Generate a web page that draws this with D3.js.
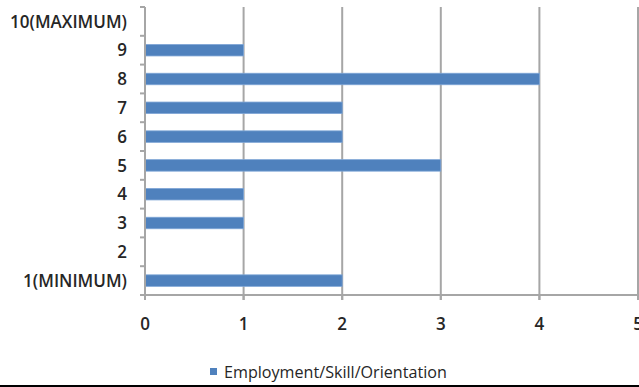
<!DOCTYPE html>
<html><head><meta charset="utf-8">
<script src="https://cdn.jsdelivr.net/npm/d3@7"></script>
<style>body{margin:0;background:#fff}svg{display:block}</style>
</head><body>
<svg id="c" width="639" height="387"></svg>
<script>
const categories = ["1(MINIMUM)","2","3","4","5","6","7","8","9","10(MAXIMUM)"];
const values = [2,0,1,1,3,2,2,4,1,0];
const xTicks = [0,1,2,3,4,5];
const seriesName = "Employment/Skill/Orientation";

(function(){
const svg = d3.select("#c");
const mLeft = 145, mRight = 638, mTop = 7, mBottom = 295;
const x = d3.scaleLinear().domain([0,5]).range([mLeft,mRight]);
const y = d3.scaleBand().domain(categories.slice().reverse()).range([mTop,mBottom]).paddingInner(0.6).paddingOuter(0.3);
const font = "'Open Sans', Lato, sans-serif";
const grid = "#a6a6a6";

// fit font size: measure
const probe = svg.append("text").attr("font-family", font).attr("font-size","14px").text(seriesName);
const w = probe.node().getComputedTextLength();
probe.remove();
const legendSize = 14 * 223 / w;
const probe2 = svg.append("text").attr("font-family", font).attr("font-weight",600).attr("font-size","14px").text(categories[9]);
const w2 = probe2.node().getComputedTextLength();
probe2.remove();
const labelSize = 14 * 117 / w2;

// gridlines
svg.append("g").selectAll("line").data(xTicks.slice(1)).join("line")
  .attr("x1", d=>x(d)).attr("x2", d=>x(d)).attr("y1", mTop).attr("y2", mBottom+5)
  .attr("stroke", grid).attr("stroke-width", 2);

// bars
svg.append("g").selectAll("rect").data(categories.map((c,i)=>({c,v:values[i]})).filter(d=>d.v>0)).join("rect")
  .attr("x", x(0)).attr("y", d=>y(d.c)).attr("width", d=>x(d.v)-x(0)).attr("height", y.bandwidth())
  .attr("fill", "#4f81bd").attr("stroke", "#7fa6d6").attr("stroke-width", 0.8);

// y axis
const yAxisBand = d3.scaleBand().domain(categories.slice().reverse()).range([mTop,mBottom]);
const yg = svg.append("g");
yg.append("line").attr("x1", mLeft).attr("x2", mLeft).attr("y1", mTop).attr("y2", mBottom)
  .attr("stroke", grid).attr("stroke-width", 2);
const bounds = d3.range(categories.length+1).map(i=>mTop + i*yAxisBand.step());
yg.selectAll("line.t").data(bounds).join("line").attr("class","t")
  .attr("x1", mLeft-5).attr("x2", mLeft).attr("y1", d=>d).attr("y2", d=>d)
  .attr("stroke", grid).attr("stroke-width", 2);
yg.selectAll("text").data(categories).join("text")
  .attr("x", 127).attr("y", d=>yAxisBand(d)+yAxisBand.bandwidth()/2)
  .attr("dy","0.36em").attr("text-anchor","end")
  .attr("font-family", font).attr("font-weight",600).attr("font-size",labelSize+"px").attr("fill","#262626")
  .text(d=>d);

// x axis
const xg = svg.append("g");
xg.append("line").attr("x1", mLeft-5).attr("x2", mRight).attr("y1", mBottom).attr("y2", mBottom)
  .attr("stroke", grid).attr("stroke-width", 2);
xg.selectAll("line.t").data(xTicks).join("line").attr("class","t")
  .attr("x1", d=>x(d)).attr("x2", d=>x(d)).attr("y1", mBottom).attr("y2", mBottom+5)
  .attr("stroke", grid).attr("stroke-width", 2);
xg.selectAll("text").data(xTicks).join("text")
  .attr("x", d=>x(d)).attr("y", 330).attr("text-anchor","middle")
  .attr("font-family", font).attr("font-weight",600).attr("font-size",labelSize+"px").attr("fill","#262626")
  .text(d=>d);

// legend
svg.append("rect").attr("x", 210).attr("y", 368).attr("width", 7).attr("height", 7).attr("fill", "#4f81bd");
svg.append("text").attr("x", 224).attr("y", 377.5)
  .attr("font-family", font).attr("font-size",legendSize+"px").attr("fill","#262626").text(seriesName);

// bottom border
svg.append("line").attr("x1",0).attr("x2",639).attr("y1",386).attr("y2",386).attr("stroke","#000").attr("stroke-width",2);
})();
</script>
</body></html>
